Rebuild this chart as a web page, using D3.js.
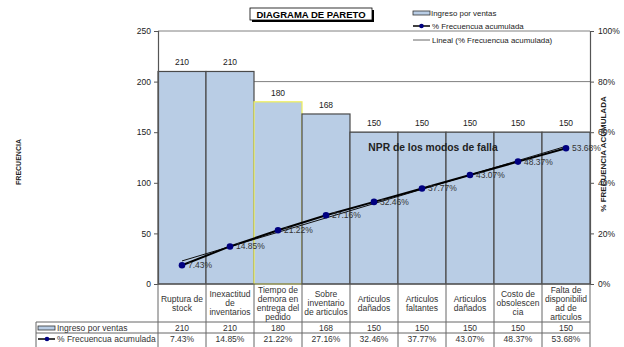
<!DOCTYPE html>
<html><head><meta charset="utf-8">
<script src="https://cdn.jsdelivr.net/npm/d3@7"></script>
<style>body{margin:0;background:#fff}svg{display:block;font-family:"Liberation Sans",Arial,sans-serif}</style>
</head><body>
<svg id="c" width="624" height="347"></svg>
<script>
const categories = ["Ruptura de\nstock","Inexactitud\nde\ninventarios","Tiempo de\ndemora en\nentrega del\npedido","Sobre\ninventario\nde articulos","Articulos\ndañados","Articulos\nfaltantes","Articulos\ndañados","Costo de\nobsolescen\ncia","Falta de\ndisponibilid\nad de\narticulos"];
const ventas = [210,210,180,168,150,150,150,150,150];
const acumulada = [7.43,14.85,21.22,27.16,32.46,37.77,43.07,48.37,53.68];
const leftTicks = [0,50,100,150,200,250];
const rightTicks = [0,20,40,60,80,100];
const seriesNames = ["Ingreso por ventas","% Frecuencua acumulada","Lineal (% Frecuencua acumulada)"];

const svg = d3.select("#c");
const L=158, R=590, T=31, B=284;
const idx = categories.map((d,i)=>i);
const x = d3.scaleBand().domain(idx).range([L,R]).padding(0);
const y = d3.scaleLinear().domain([0,250]).range([B,T]);
const yp = d3.scaleLinear().domain([0,100]).range([B,T]);
const bw = x.bandwidth();
const cx = i => x(i)+bw/2;

// gridlines
svg.append("g").selectAll("line").data(leftTicks.filter(t=>t>0)).join("line")
  .attr("x1",L).attr("x2",R).attr("y1",d=>y(d)).attr("y2",d=>y(d))
  .attr("stroke","#808080").attr("stroke-width",1);

// bars
svg.append("g").selectAll("rect").data(ventas).join("rect")
  .attr("x",(d,i)=>x(i)).attr("width",bw)
  .attr("y",d=>y(d)).attr("height",d=>y(0)-y(d))
  .attr("fill","#b9cde5")
  .attr("stroke",(d,i)=>i===2?"#eeee55":"#4a4a4a").attr("stroke-width",1.2);

// bar labels
svg.append("g").selectAll("text").data(ventas).join("text")
  .attr("x",(d,i)=>cx(i)).attr("y",d=>y(d)-6)
  .attr("text-anchor","middle").attr("font-size",8.5).attr("fill","#222").text(d=>d);

// axes
const gl = svg.append("g").attr("transform",`translate(${L},0)`)
  .call(d3.axisLeft(y).tickValues(leftTicks).tickSize(4).tickPadding(3));
const gr = svg.append("g").attr("transform",`translate(${R},0)`)
  .call(d3.axisRight(yp).tickValues(rightTicks).tickFormat(d=>d+"%").tickSize(4).tickPadding(4));
[gl,gr].forEach(g=>{
  g.select(".domain").attr("stroke","#555").attr("stroke-width",1.2);
  g.selectAll(".tick line").attr("stroke","#555");
  g.selectAll(".tick text").attr("font-size",8.5).attr("fill","#222").attr("font-family","Liberation Sans, Arial");
});
svg.append("line").attr("x1",L).attr("x2",R).attr("y1",B).attr("y2",B).attr("stroke","#555").attr("stroke-width",1.2);

// trend line (linear regression)
const n = acumulada.length;
const xs = idx.map(i=>i+1);
const mx = d3.mean(xs), my = d3.mean(acumulada);
const slope = d3.sum(xs.map((v,i)=>(v-mx)*(acumulada[i]-my)))/d3.sum(xs.map(v=>(v-mx)*(v-mx)));
const icpt = my - slope*mx;
svg.append("line")
  .attr("x1",cx(0)).attr("y1",yp(icpt+slope*1))
  .attr("x2",cx(n-1)).attr("y2",yp(icpt+slope*n))
  .attr("stroke","#111").attr("stroke-width",1);

// cumulative line
svg.append("path").datum(acumulada)
  .attr("d",d3.line().x((d,i)=>cx(i)).y(d=>yp(d)))
  .attr("fill","none").attr("stroke","#000").attr("stroke-width",2);
svg.append("g").selectAll("circle").data(acumulada).join("circle")
  .attr("cx",(d,i)=>cx(i)).attr("cy",d=>yp(d)).attr("r",3.3).attr("fill","#000080");
svg.append("g").selectAll("text").data(acumulada).join("text")
  .attr("x",(d,i)=>cx(i)+6).attr("y",d=>yp(d)+3)
  .attr("font-size",8.5).attr("fill","#333").text(d=>d.toFixed(2)+"%");

// plot text
svg.append("text").attr("x",433).attr("y",151).attr("text-anchor","middle")
  .attr("font-size",10.3).attr("font-weight","bold").attr("fill","#222").text("NPR de los modos de falla");

// axis titles
svg.append("text").attr("transform","translate(21,162) rotate(-90)").attr("text-anchor","middle")
  .attr("font-size",7).attr("font-weight","bold").attr("fill","#222").text("FRECUENCIA");
svg.append("text").attr("transform","translate(606,154) rotate(-90)").attr("text-anchor","middle")
  .attr("font-size",8).attr("font-weight","bold").attr("fill","#222").text("% FRECUENCIA ACUMULADA");

// title box
svg.append("rect").attr("x",252).attr("y",10).attr("width",122).attr("height",12).attr("fill","#000");
svg.append("rect").attr("x",250).attr("y",8).attr("width",122).attr("height",12).attr("fill","#fff").attr("stroke","#000").attr("stroke-width",0.8);
svg.append("text").attr("x",311).attr("y",17.5).attr("text-anchor","middle")
  .attr("font-size",9.5).attr("font-weight","bold").attr("fill","#000").text("DIAGRAMA DE PARETO");

// legend
const lg = svg.append("g");
const ly = [13,26,40];
lg.append("rect").attr("x",413).attr("y",ly[0]-2).attr("width",17).attr("height",4).attr("fill","#b9cde5").attr("stroke","#333").attr("stroke-width",0.8);
lg.append("line").attr("x1",413).attr("x2",430).attr("y1",ly[1]).attr("y2",ly[1]).attr("stroke","#000").attr("stroke-width",1.5);
lg.append("circle").attr("cx",421.5).attr("cy",ly[1]).attr("r",2.3).attr("fill","#000080");
lg.append("line").attr("x1",413).attr("x2",430).attr("y1",ly[2]).attr("y2",ly[2]).attr("stroke","#666").attr("stroke-width",1);
lg.selectAll("text").data(seriesNames).join("text")
  .attr("x",(d,i)=>i===0?431:432).attr("y",(d,i)=>ly[i]+3).attr("font-size",7.9).attr("fill","#222").text(d=>d);

// data table
const tL = 36, rowTop = 322, rowMid = 333, rowBot = 347;
const tg = svg.append("g");
const grid = "#666";
idx.concat([n]).forEach(i=>{
  const xx = i<n ? x(i) : R;
  tg.append("line").attr("x1",xx).attr("x2",xx).attr("y1",B).attr("y2",rowBot).attr("stroke",grid).attr("stroke-width",1);
});
tg.append("line").attr("x1",tL).attr("x2",tL).attr("y1",rowTop).attr("y2",rowBot).attr("stroke",grid);
[rowTop,rowMid].forEach(yy=>tg.append("line").attr("x1",tL).attr("x2",R).attr("y1",yy).attr("y2",yy).attr("stroke",grid));
categories.forEach((c,i)=>{
  const lines = c.split("\n");
  const lh = 9, cy0 = (B+rowTop)/2 - (lines.length-1)*lh/2;
  const t = tg.append("text").attr("text-anchor","middle").attr("font-size",8.5).attr("fill","#333");
  lines.forEach((s,k)=>t.append("tspan").attr("x",cx(i)).attr("y",cy0+k*lh+3).text(s));
});
tg.append("rect").attr("x",38).attr("y",326).attr("width",17).attr("height",4).attr("fill","#b9cde5").attr("stroke","#333").attr("stroke-width",0.8);
tg.append("line").attr("x1",38).attr("x2",55).attr("y1",339).attr("y2",339).attr("stroke","#000").attr("stroke-width",1.5);
tg.append("circle").attr("cx",47).attr("cy",339).attr("r",2.3).attr("fill","#000080");
tg.append("text").attr("x",57).attr("y",331).attr("font-size",8.5).attr("fill","#333").text(seriesNames[0]);
tg.append("text").attr("x",57).attr("y",342).attr("font-size",8.5).attr("fill","#333").text(seriesNames[1]);
tg.selectAll(".v1").data(ventas).join("text").attr("class","v1")
  .attr("x",(d,i)=>cx(i)).attr("y",331).attr("text-anchor","middle").attr("font-size",8.5).attr("fill","#333").text(d=>d);
tg.selectAll(".v2").data(acumulada).join("text").attr("class","v2")
  .attr("x",(d,i)=>cx(i)).attr("y",342).attr("text-anchor","middle").attr("font-size",8.5).attr("fill","#333").text(d=>d.toFixed(2)+"%");
</script>
</body></html>
